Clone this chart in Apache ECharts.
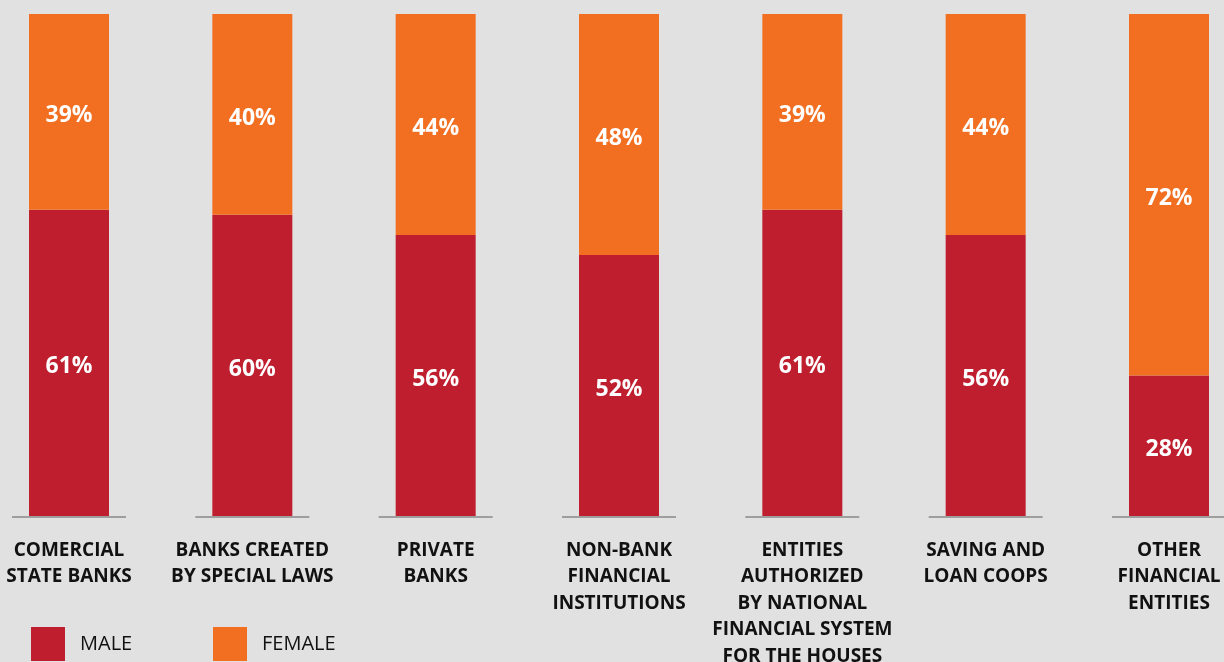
<!DOCTYPE html>
<html>
<head>
<meta charset="utf-8">
<script src="https://cdn.jsdelivr.net/npm/echarts@6/dist/echarts.min.js"></script>
<style>
html,body{margin:0;padding:0;background:#e1e1e1;}
#chart{width:1224px;height:662px;}
</style>
</head>
<body>
<div id="chart"></div>
<script>
var categories = [
  "COMERCIAL\nSTATE BANKS",
  "BANKS CREATED\nBY SPECIAL LAWS",
  "PRIVATE\nBANKS",
  "NON-BANK\nFINANCIAL\nINSTITUTIONS",
  "ENTITIES\nAUTHORIZED\nBY NATIONAL\nFINANCIAL SYSTEM\nFOR THE HOUSES",
  "SAVING AND\nLOAN COOPS",
  "OTHER\nFINANCIAL\nENTITIES"
];
var maleValues = [61, 60, 56, 52, 61, 56, 28];
var femaleValues = [39, 40, 44, 48, 39, 44, 72];
var baseline = [0, 0, 0, 0, 0, 0, 0];

var FONT = '"Open Sans", "Noto Sans", sans-serif';
var chart = echarts.init(document.getElementById('chart'), null, {renderer: 'canvas'});

var labelStyle = {
  show: true,
  position: 'inside',
  offset: [0, 4],
  formatter: '{c}%',
  color: '#ffffff',
  fontFamily: FONT,
  fontWeight: 'bold',
  fontSize: 23
};

var legendText = {fontFamily: FONT, fontSize: 20, color: '#111', padding: [2, 0, 0, 10]};

chart.setOption({
  backgroundColor: '#e1e1e1',
  animation: false,
  grid: {left: 69, right: 55, top: 14, bottom: 146, containLabel: false, outerBoundsMode: 'none'},
  legend: [
    {
      data: ['MALE'], left: 31, top: 627, padding: 0, itemWidth: 34, itemHeight: 34,
      icon: 'rect', textStyle: legendText
    },
    {
      data: ['FEMALE'], left: 213, top: 627, padding: 0, itemWidth: 34, itemHeight: 34,
      icon: 'rect', textStyle: legendText
    }
  ],
  xAxis: {
    type: 'category',
    data: categories,
    boundaryGap: false,
    axisLine: {show: false},
    axisTick: {show: false},
    axisLabel: {
      interval: 0,
      margin: 21,
      fontFamily: FONT,
      fontWeight: 'bold',
      fontSize: 19,
      lineHeight: 26.5,
      color: '#111',
      align: 'center'
    }
  },
  yAxis: {
    type: 'value', min: 0, max: 100, show: false,
    splitLine: {show: false}
  },
  series: [
    {
      name: 'MALE', type: 'bar', stack: 'total', barWidth: 80,
      data: maleValues,
      itemStyle: {color: '#be1e2d'},
      label: labelStyle
    },
    {
      name: 'FEMALE', type: 'bar', stack: 'total', barWidth: 80,
      data: femaleValues,
      itemStyle: {color: '#f26f21'},
      label: labelStyle
    },
    {
      name: 'axis', type: 'custom',
      data: baseline,
      silent: true,
      z: 5,
      renderItem: function (params, api) {
        var p = api.coord([api.value(0), api.value(1)]);
        var half = 57;
        return {
          type: 'line',
          shape: {x1: p[0] - half, y1: p[1] + 1, x2: p[0] + half, y2: p[1] + 1},
          style: {stroke: '#9e9e9e', lineWidth: 2}
        };
      },
      encode: {x: 0, y: 1}
    }
  ]
});
</script>
</body>
</html>
